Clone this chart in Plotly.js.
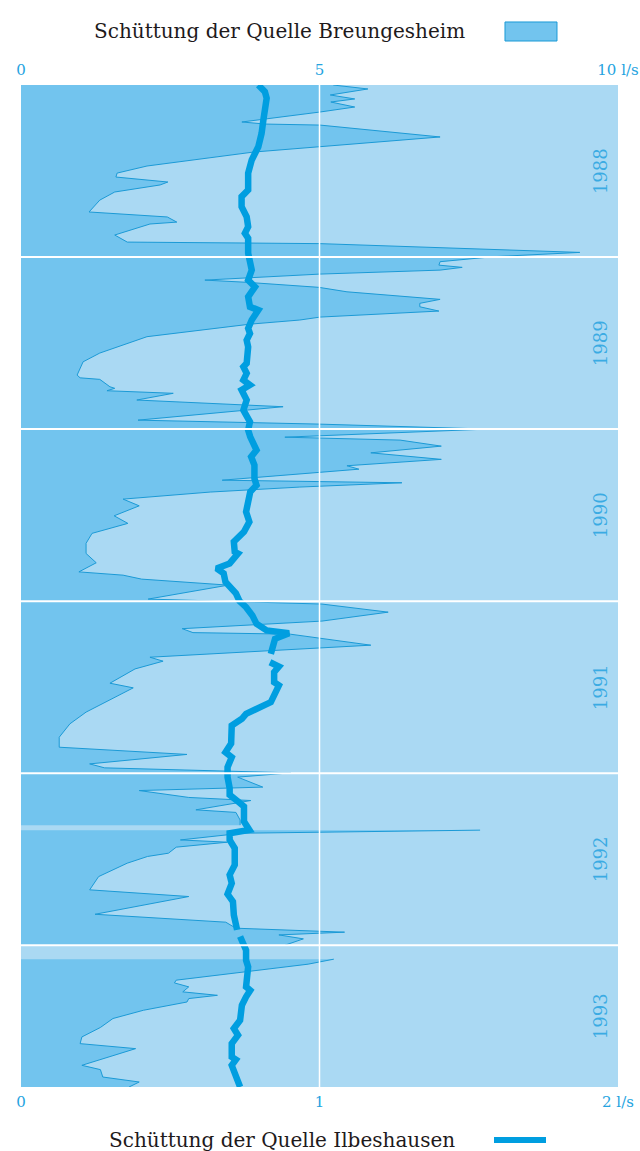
<!DOCTYPE html>
<html>
<head>
<meta charset="utf-8">
<script src="https://cdn.plot.ly/plotly-3.0.1.min.js"></script>
<style>html,body{margin:0;padding:0;background:#fff;}#chart{width:640px;height:1151px;}</style>
</head>
<body>
<div id="chart"></div>
<script>
// Zeit in Dezimaljahren (1988.0 = Anfang 1988)
const yearLabels = ['1988', '1989', '1990', '1991', '1992', '1993'];
const yearStarts = [1988, 1989, 1990, 1991, 1992, 1993];
const timeEnd = 1993.824;

// Schüttung der Quelle Breungesheim (l/s), null = Datenlücke
const tBreungesheim = [
  1988.000, 1988.023, 1988.058, 1988.081, 1988.099, 1988.128, 1988.157, 1988.215, 1988.227, 1988.233,
  1988.302, 1988.360, 1988.390, 1988.471, 1988.512, 1988.535, 1988.564, 1988.581, 1988.622, 1988.669,
  1988.738, 1988.767, 1988.797, 1988.808, 1988.872, 1988.913, 1988.922, 1988.973, 1988.998, 1989.027,
  1989.047, 1989.060, 1989.076, 1989.099, 1989.134, 1989.147, 1989.176, 1989.202, 1989.246, 1989.269,
  1989.289, 1989.314, 1989.349, 1989.366, 1989.390, 1989.463, 1989.558, 1989.609, 1989.686, 1989.702,
  1989.711, 1989.754, 1989.763, 1989.777, 1989.792, 1989.831, 1989.870, 1989.948, 1989.971, 1990.000,
  1990.047, 1990.064, 1990.099, 1990.138, 1990.176, 1990.213, 1990.233, 1990.297, 1990.305, 1990.312,
  1990.337, 1990.366, 1990.407, 1990.446, 1990.504, 1990.548, 1990.606, 1990.664, 1990.723, 1990.777,
  1990.830, 1990.849, 1990.872, 1990.907, 1990.988, 1991.017, 1991.064, 1991.116, 1991.160, 1991.183,
  1991.192, 1991.256, 1991.326, 1991.349, 1991.394, 1991.477, 1991.504, 1991.539, 1991.645, 1991.713,
  1991.791, 1991.849, 1991.891, 1991.946, 1991.969, 1991.998, 1992.023, 1992.081, 1992.101, 1992.141,
  1992.159, 1992.213, 1992.228, 1992.272, 1992.302, 1992.316, 1992.331, 1992.349, 1992.388, 1992.401,
  1992.430, 1992.465, 1992.484, 1992.523, 1992.601, 1992.678, 1992.717, 1992.820, 1992.866, 1992.901,
  1992.924, 1992.940, 1992.963, 1992.988, 1993.000, 1993.040, 1993.081, 1993.110, 1993.151, 1993.203,
  1993.219, 1993.242, 1993.271, 1993.291, 1993.310, 1993.330, 1993.378, 1993.426, 1993.478, 1993.533,
  1993.572, 1993.601, 1993.698, 1993.723, 1993.766, 1993.795, 1993.824
];
const qBreungesheim = [
  5.23, 5.81, 5.18, 5.59, 5.19, 5.59, 5.01, 3.70, 4.09, 5.01,
  7.02, 4.99, 3.89, 2.11, 1.61, 1.59, 2.46, 2.33, 1.57, 1.32,
  1.14, 2.45, 2.61, 2.16, 1.57, 1.78, 5.01, 9.36, 7.91, 7.02,
  7.00, 7.39, 7.02, 5.01, 3.08, 3.79, 4.99, 5.46, 7.02, 6.68,
  6.68, 7.00, 5.01, 4.67, 3.84, 2.11, 1.32, 1.04, 0.94, 0.99,
  1.32, 1.49, 1.57, 1.44, 2.55, 1.94, 4.39, 1.96, 4.99, 7.81,
  4.42, 6.35, 7.04, 5.86, 7.04, 5.46, 5.66, 3.37, 4.67, 6.38,
  4.67, 3.17, 1.71, 1.98, 1.56, 1.79, 1.19, 1.09, 1.09, 1.26,
  0.97, 1.71, 2.02, 3.47, 2.13, 5.04, 6.15, 5.04, 2.70, 2.88,
  4.51, 5.86, 2.16, 2.38, 1.91, 1.49, 1.88, 1.68, 1.09, 0.82,
  0.64, 0.64, 2.78, 1.15, 1.40, 4.52, 3.63, 4.05, 1.98, 2.81,
  3.85, 2.93, 3.60, 3.67, 3.67, null, 7.69, 3.70, 2.67, 3.46,
  2.60, 2.47, 2.12, 1.78, 1.30, 1.15, 2.81, 1.24, 3.43, 3.60,
  5.42, 4.32, 4.73, 4.52, 4.42, null, 5.24, 4.81, 3.84, 2.60,
  2.57, 2.81, 2.71, 3.29, 2.81, 2.78, 2.05, 1.54, 1.33, 1.02,
  0.99, 1.92, 1.02, 1.33, 1.37, 1.98, 1.81
];

// Schüttung der Quelle Ilbeshausen (l/s), null = Datenlücke
const tIlbeshausen = [
  1988.000, 1988.039, 1988.077, 1988.126, 1988.203, 1988.281, 1988.359, 1988.436, 1988.513, 1988.610,
  1988.649, 1988.708, 1988.766, 1988.824, 1988.862, 1988.891, 1988.978, 1989.027, 1989.076, 1989.134,
  1989.173, 1989.231, 1989.289, 1989.308, 1989.366, 1989.415, 1989.444, 1989.483, 1989.522, 1989.618,
  1989.638, 1989.676, 1989.715, 1989.744, 1989.773, 1989.831, 1989.890, 1989.958, 1990.006, 1990.045,
  1990.122, 1990.161, 1990.209, 1990.287, 1990.326, 1990.364, 1990.481, 1990.539, 1990.597, 1990.655,
  1990.713, 1990.723, 1990.781, 1990.810, 1990.839, 1990.888, 1990.955, 1991.000, 1991.035, 1991.083,
  1991.132, 1991.170, 1991.186, 1991.219, 1991.306, 1991.330, 1991.355, 1991.380, 1991.413, 1991.471,
  1991.490, 1991.558, 1991.587, 1991.655, 1991.684, 1991.723, 1991.827, 1991.878, 1991.907, 1991.965,
  1992.023, 1992.087, 1992.126, 1992.165, 1992.194, 1992.281, 1992.330, 1992.349, 1992.388, 1992.436,
  1992.533, 1992.591, 1992.640, 1992.703, 1992.746, 1992.824, 1992.911, 1992.930, 1992.949, 1992.978,
  1993.029, 1993.087, 1993.126, 1993.242, 1993.262, 1993.300, 1993.349, 1993.436, 1993.484, 1993.523,
  1993.572, 1993.649, 1993.665, 1993.698, 1993.766, 1993.824
];
const qIlbeshausen = [
  0.795, 0.817, 0.823, 0.817, 0.812, 0.806, 0.795, 0.773, 0.761, 0.761,
  0.739, 0.739, 0.756, 0.761, 0.750, 0.761, 0.761, 0.767, 0.773, 0.761,
  0.784, 0.761, 0.767, 0.795, 0.773, 0.761, 0.767, 0.756, 0.761, 0.756,
  0.745, 0.756, 0.745, 0.767, 0.739, 0.756, 0.745, 0.767, 0.761, 0.768,
  0.789, 0.771, 0.782, 0.782, 0.789, 0.768, 0.754, 0.765, 0.747, 0.713,
  0.716, 0.727, 0.699, 0.655, 0.679, 0.685, 0.720, 0.732, 0.754, 0.775,
  0.789, 0.823, 0.898, 0.851, 0.837, null, 0.834, 0.864, 0.848, 0.848,
  0.864, 0.844, 0.837, 0.754, 0.740, 0.706, 0.704, 0.685, 0.706, 0.692,
  0.692, 0.699, 0.699, 0.727, 0.747, 0.747, 0.765, 0.699, 0.699, 0.716,
  0.716, 0.699, 0.706, 0.692, 0.710, 0.713, 0.724, null, 0.734, 0.740,
  0.754, 0.754, 0.761, 0.754, 0.768, 0.754, 0.740, 0.734, 0.713, 0.727,
  0.706, 0.706, 0.720, 0.706, 0.720, 0.734
];

const topTickVals = [0, 5, 10];
const topTickText = ['0', '5', '10 l/s'];
const bottomTickVals = [0, 1, 2];
const bottomTickText = ['0', '1', '2 l/s'];
const titleBreungesheim = 'Schüttung der Quelle Breungesheim';
const titleIlbeshausen = 'Schüttung der Quelle Ilbeshausen';

const serif = 'DejaVu Serif, Liberation Serif, serif';
const tickBlue = '#25a3df';
const darkFill = '#72c4ee';
const lightBg = '#aad9f3';
const edgeBlue = '#1b9ad6';
const thickBlue = '#009ee0';

// split the Breungesheim series at data gaps so each run is filled on its own
function splitAtGaps(t, q) {
  const segs = [];
  let cur = {t: [], q: []};
  for (let i = 0; i < t.length; i++) {
    if (q[i] === null) {
      if (cur.t.length) segs.push(cur);
      cur = {t: [], q: []};
    } else {
      cur.t.push(t[i]); cur.q.push(q[i]);
    }
  }
  if (cur.t.length) segs.push(cur);
  return segs;
}

const traces = splitAtGaps(tBreungesheim, qBreungesheim).map(s => ({
  x: s.q, y: s.t, xaxis: 'x', yaxis: 'y',
  type: 'scatter', mode: 'lines', fill: 'tozerox', fillcolor: darkFill,
  line: {color: edgeBlue, width: 1}, hoverinfo: 'skip'
}));
traces.push({
  x: qIlbeshausen, y: tIlbeshausen, xaxis: 'x2', yaxis: 'y',
  type: 'scatter', mode: 'lines',
  line: {color: thickBlue, width: 6.5}, connectgaps: false, hoverinfo: 'skip'
});

const shapes = [];
for (let i = 1; i < yearStarts.length; i++) {
  shapes.push({type: 'line', xref: 'paper', yref: 'y', x0: 0, x1: 1, y0: yearStarts[i], y1: yearStarts[i],
    line: {color: '#ffffff', width: 2}, layer: 'above'});
}
shapes.push({type: 'line', xref: 'x', yref: 'paper', x0: 5, x1: 5, y0: 0, y1: 1,
  line: {color: '#ffffff', width: 1.5}, layer: 'above'});
// legend swatch & line
shapes.push({type: 'rect', xref: 'paper', yref: 'paper', x0: 0.8107, x1: 0.8978, y0: 1.0439, y1: 1.0629,
  fillcolor: darkFill, line: {color: edgeBlue, width: 1}});
shapes.push({type: 'line', xref: 'paper', yref: 'paper', x0: 0.7923, x1: 0.8794, y0: -0.0529, y1: -0.0529,
  line: {color: thickBlue, width: 6}});

const annotations = [];
for (let i = 0; i < yearLabels.length; i++) {
  const yEnd = (i + 1 < yearStarts.length) ? yearStarts[i + 1] : timeEnd;
  annotations.push({text: yearLabels[i], xref: 'paper', yref: 'y', x: 0.97, y: (yearStarts[i] + yEnd) / 2,
    textangle: -90, showarrow: false, xanchor: 'center', yanchor: 'middle',
    font: {family: serif, size: 18, color: '#3aabe3'}});
}
annotations.push({text: titleBreungesheim, xref: 'paper', yref: 'paper', x: 0.4338, y: 1.0539,
  showarrow: false, xanchor: 'center', yanchor: 'middle', font: {family: serif, size: 20, color: '#1e1a1b'}});
annotations.push({text: titleIlbeshausen, xref: 'paper', yref: 'paper', x: 0.437, y: -0.0529,
  showarrow: false, xanchor: 'center', yanchor: 'middle', font: {family: serif, size: 20, color: '#1e1a1b'}});

const axisCommon = {
  showgrid: false, zeroline: false, showline: false, fixedrange: true,
  ticks: 'outside', tickcolor: 'rgba(0,0,0,0)',
  tickfont: {family: serif, size: 15, color: tickBlue}
};

const layout = {
  width: 640, height: 1151,
  margin: {l: 21, r: 22, t: 85, b: 64, pad: 0},
  paper_bgcolor: '#ffffff', plot_bgcolor: lightBg,
  showlegend: false,
  xaxis: Object.assign({}, axisCommon, {range: [0, 10], tickvals: topTickVals, ticktext: topTickText, side: 'top', ticklen: 3}),
  xaxis2: Object.assign({}, axisCommon, {range: [0, 2], tickvals: bottomTickVals, ticktext: bottomTickText, side: 'bottom', overlaying: 'x', ticklen: 1}),
  yaxis: {range: [timeEnd, 1988], showgrid: false, zeroline: false, showticklabels: false, ticks: '', fixedrange: true},
  shapes: shapes,
  annotations: annotations
};

Plotly.newPlot('chart', traces, layout, {displayModeBar: false, staticPlot: true});
</script>
</body>
</html>
